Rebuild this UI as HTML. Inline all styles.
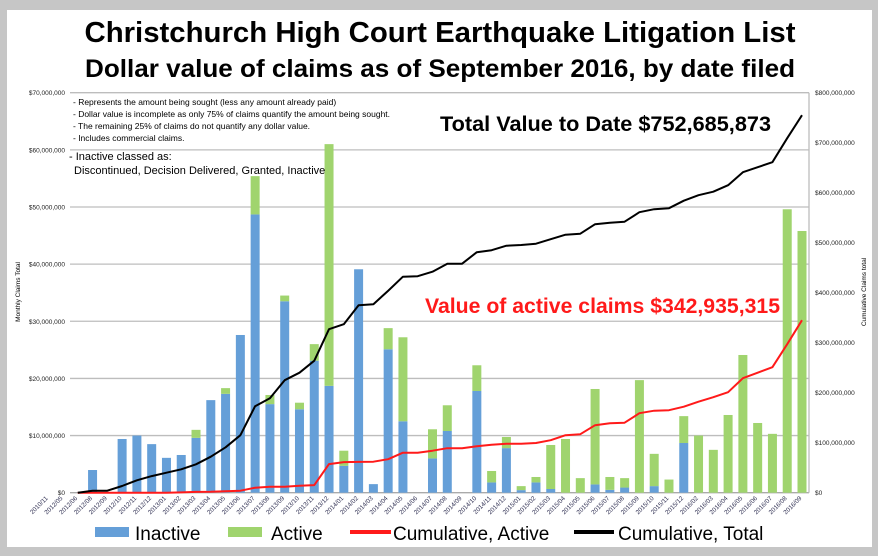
<!DOCTYPE html>
<html><head><meta charset="utf-8"><style>
body{margin:0;background:#c6c6c6;}
svg{display:block;font-family:"Liberation Sans",sans-serif;}
</style></head><body>
<svg id="chart" width="878" height="556" viewBox="0 0 878 556" xmlns="http://www.w3.org/2000/svg">
<rect x="0" y="0" width="878" height="556" fill="#c6c6c6"/>
<rect x="7" y="10" width="865" height="537" fill="#fff"/>
<text x="440" y="42" text-anchor="middle" font-size="29" font-weight="bold" textLength="711" lengthAdjust="spacingAndGlyphs">Christchurch High Court Earthquake Litigation List</text>
<text x="440" y="77" text-anchor="middle" font-size="25" font-weight="bold" textLength="710" lengthAdjust="spacingAndGlyphs">Dollar value of claims as of September 2016, by date filed</text>
<g id="grid"></g>
<g id="bars"></g>
<g id="lines"></g>
<g id="axes"></g>
<g font-size="8.5" fill="#000">
<text x="73" y="105">- Represents the amount being sought (less any amount already paid)</text>
<text x="73" y="117">- Dollar value is incomplete as only 75% of claims quantify the  amount being sought.</text>
<text x="73" y="129">- The remaining 25% of claims do not quantify any dollar value.</text>
<text x="73" y="141">- Includes commercial claims.</text>
</g>
<text x="69" y="160" font-size="11">- Inactive classed as:</text>
<text x="74" y="174" font-size="11">Discontinued, Decision Delivered, Granted, Inactive</text>
<text x="440" y="131" font-size="21" font-weight="bold" textLength="331" lengthAdjust="spacingAndGlyphs">Total Value to Date $752,685,873</text>
<text x="425" y="313" font-size="21" font-weight="bold" fill="#ff1a1a" textLength="355" lengthAdjust="spacingAndGlyphs">Value of active claims $342,935,315</text>
<text transform="translate(20,292) rotate(-90)" text-anchor="middle" font-size="6.5">Monthly Claims Total</text>
<text transform="translate(866,292) rotate(-90)" text-anchor="middle" font-size="6.5">Cumulative Claims total</text>
<g font-size="19">
<g><rect x="95" y="527" width="34" height="10" fill="#659fd8"/><text x="135" y="540">Inactive</text></g>
<g><rect x="228" y="527" width="34" height="10" fill="#a0d46e"/><text x="271" y="540">Active</text></g>
<g><line x1="350" y1="532" x2="391" y2="532" stroke="#ff1a1a" stroke-width="4"/><text x="393" y="540">Cumulative, Active</text></g>
<g><line x1="574" y1="532" x2="614" y2="532" stroke="#000" stroke-width="4"/><text x="618" y="540">Cumulative, Total</text></g>
</g>
</svg>
<script>
const categories=["2010/11","2012/05","2012/06","2012/08","2012/09","2012/10","2012/11","2012/12","2013/01","2013/02","2013/03","2013/04","2013/05","2013/06","2013/07","2013/08","2013/09","2013/10","2013/11","2013/12","2014/01","2014/02","2014/03","2014/04","2014/05","2014/06","2014/07","2014/08","2014/09","2014/10","2014/11","2014/12","2015/01","2015/02","2015/03","2015/04","2015/05","2015/06","2015/07","2015/08","2015/09","2015/10","2015/11","2015/12","2016/02","2016/03","2016/04","2016/05","2016/06","2016/07","2016/08","2016/09"];
// monthly values, $ millions
const inactive=[0,0,0,3.97,0,9.4,10.0,8.5,6.1,6.6,9.6,16.2,17.3,27.6,48.7,15.5,33.5,14.6,23.1,18.7,4.7,39.1,1.5,25.1,12.5,0,6.0,10.8,0,17.8,1.8,7.8,0.45,1.8,0.65,0,0,1.45,0.5,0.9,0,1.15,0,8.7,0,0,0,0,0,0,0,0];
const active=[0,0,0,0,0,0,0,0,0,0,1.4,0,1.0,0,6.7,1.6,1.0,1.15,2.9,42.3,2.65,0,0,3.7,14.7,0,5.1,4.5,0,4.5,2.0,1.95,0.7,0.95,7.7,9.4,2.55,16.7,2.25,1.65,19.7,5.65,2.3,4.7,10.0,7.5,13.6,24.1,12.2,10.3,49.6,45.8];
// cumulative values, $ millions
const cumActive=[null,null,0,0,0,0,0,0,0,0.5,1.5,1.8,3,4,10,12,12,14,15.3,57.3,61.3,61.5,62,67,80,80,84,89,89,93,96,98,98,99.4,105,115,117,135,139,140,159,164,165,172,182,191,201,229,240,251,297,345];
const cumTotal=[null,null,0,4,4,13.4,24.7,33.3,40,46.7,56.7,72,90.7,115,173,189,225,240,264,327,337,375,377,404,432,433,442,458,458,481,485,494,495.4,498,507,516,518,537,540,542,561,567,569,584,595,602,615,641,651,661,709,755];
const leftTicks=["$0","$10,000,000","$20,000,000","$30,000,000","$40,000,000","$50,000,000","$60,000,000","$70,000,000"];
const rightTicks=["$0","$100,000,000","$200,000,000","$300,000,000","$400,000,000","$500,000,000","$600,000,000","$700,000,000","$800,000,000"];

const NS="http://www.w3.org/2000/svg";
const PL=70,PR=809,PT=92.7,PB=492.7;
const step=14.78, lastCenter=802;
function xC(i){return lastCenter-(categories.length-1-i)*step;}
function yL(v){return PB-v*(PB-PT)/70;}
function yR(v){return PB-v*(PB-PT)/800;}
function mk(tag,attrs,parent){const e=document.createElementNS(NS,tag);for(const k in attrs)e.setAttribute(k,attrs[k]);parent.appendChild(e);return e;}

const grid=document.getElementById('grid');
const axes=document.getElementById('axes');
leftTicks.forEach((t,k)=>{
  const y=yL(k*10);
  const l=mk('line',{x1:PL,x2:PR,y1:y,y2:y,stroke:k===0?'#aaa':'#bdbdbd','stroke-width':1.3},grid);
  
  
  const tx=mk('text',{x:PL-5,y:y+2.5,'text-anchor':'end','font-size':6.5,fill:'#222'},axes);
  tx.textContent=t;
  
  
});
const ax=mk('line',{x1:PR,x2:PR,y1:PT,y2:PB,stroke:'#bdbdbd','stroke-width':1.3},axes);


rightTicks.forEach((t,k)=>{
  const y=yR(k*100);
  const tx=mk('text',{x:PR+6,y:y+2.5,'font-size':6.5,fill:'#222'},axes);
  tx.textContent=t;
  
  
});
categories.forEach((c,i)=>{
  const x=xC(i);
  const tx=mk('text',{x:x,y:PB+6,'text-anchor':'end','font-size':6.3,fill:'#335',transform:`rotate(-45 ${x} ${PB+6})`},axes);
  tx.textContent=c;
  
  
});

const bars=document.getElementById('bars');
const bw=9;
categories.forEach((c,i)=>{
  const x=xC(i)-bw/2;
  if(inactive[i]>0){
    const r=mk('rect',{x:x,y:yL(inactive[i]),width:bw,height:PB-yL(inactive[i]),fill:'#659fd8'},bars);
    
    
  }
  if(active[i]>0){
    const top=yL(inactive[i]+active[i]);
    const r=mk('rect',{x:x,y:top,width:bw,height:yL(inactive[i])-top,fill:'#a0d46e'},bars);
    
    
  }
});

const lines=document.getElementById('lines');
function path(arr,col,name){
  let d='';
  arr.forEach((v,i)=>{if(v===null)return;d+=(d?'L':'M')+xC(i).toFixed(1)+','+yR(v).toFixed(1);});
  const p=mk('path',{d:d,fill:'none',stroke:col,'stroke-width':2,'stroke-linejoin':'round'},lines);
  
  
}
path(cumActive,'#ff1a1a','line-cumulative-active');
path(cumTotal,'#000','line-cumulative-total');
</script>
</body></html>
